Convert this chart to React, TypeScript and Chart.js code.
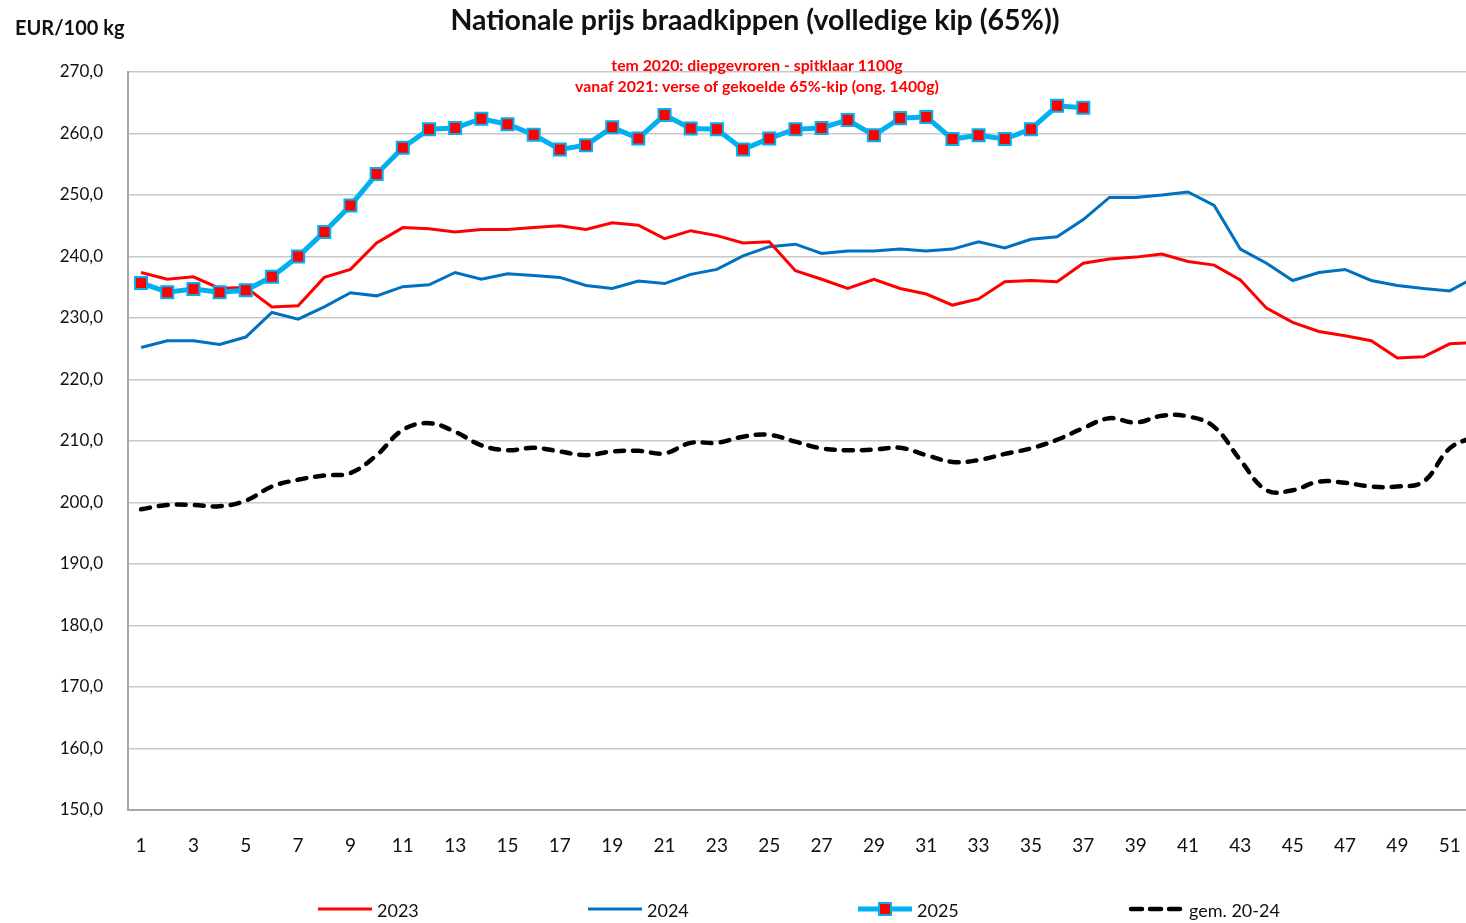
import React, { useEffect, useRef } from 'react';
import { Chart, registerables } from 'chart.js';
Chart.register(...registerables);

const weeks = ['1','2','3','4','5','6','7','8','9','10','11','12','13','14','15','16','17','18','19','20','21','22','23','24','25','26','27','28','29','30','31','32','33','34','35','36','37','38','39','40','41','42','43','44','45','46','47','48','49','50','51','52'];

const values2023 = [237.4, 236.3, 236.7, 234.8, 235.0, 231.8, 232.0, 236.6, 237.9, 242.2, 244.7, 244.5, 244.0, 244.4, 244.4, 244.7, 245.0, 244.4, 245.5, 245.1, 242.9, 244.2, 243.4, 242.2, 242.4, 237.7, 236.3, 234.8, 236.3, 234.8, 233.9, 232.1, 233.1, 235.9, 236.1, 235.9, 238.9, 239.6, 239.9, 240.4, 239.2, 238.6, 236.2, 231.6, 229.3, 227.8, 227.1, 226.3, 223.5, 223.7, 225.8, 226.0];

const values2024 = [225.2, 226.3, 226.3, 225.7, 226.9, 230.9, 229.8, 231.8, 234.1, 233.6, 235.1, 235.4, 237.4, 236.3, 237.2, 236.9, 236.6, 235.3, 234.8, 236.0, 235.6, 237.1, 237.9, 240.1, 241.6, 242.0, 240.5, 240.9, 240.9, 241.2, 240.9, 241.2, 242.4, 241.4, 242.8, 243.2, 246.0, 249.6, 249.6, 250.0, 250.5, 248.3, 241.2, 238.9, 236.1, 237.4, 237.9, 236.1, 235.3, 234.8, 234.4, 236.7];

const values2025 = [235.7, 234.2, 234.7, 234.2, 234.5, 236.7, 240.0, 244.0, 248.3, 253.4, 257.7, 260.7, 260.9, 262.4, 261.5, 259.8, 257.4, 258.1, 261.0, 259.2, 263.0, 260.8, 260.7, 257.4, 259.2, 260.7, 260.9, 262.2, 259.7, 262.5, 262.7, 259.1, 259.7, 259.1, 260.7, 264.5, 264.2];

const valuesAvg = [198.9, 199.6, 199.6, 199.4, 200.3, 202.6, 203.7, 204.4, 204.8, 207.7, 211.8, 212.9, 211.5, 209.3, 208.5, 208.9, 208.3, 207.7, 208.3, 208.4, 208.0, 209.7, 209.7, 210.7, 211.0, 209.9, 208.8, 208.5, 208.6, 208.9, 207.7, 206.6, 206.9, 207.9, 208.8, 210.2, 212.1, 213.7, 213.0, 214.1, 214.0, 212.3, 206.9, 202.0, 202.0, 203.4, 203.2, 202.6, 202.6, 203.4, 208.8, 210.8];

const seriesNames = ['2023', '2024', '2025', 'gem. 20-24'];
const titleText = 'Nationale prijs braadkippen (volledige kip (65%))';
const unitText = 'EUR/100 kg';
const noteLines = ['tem 2020: diepgevroren - spitklaar 1100g', 'vanaf 2021: verse of gekoelde 65%-kip (ong. 1400g)'];

const FONT = "Lato, 'Open Sans', 'DejaVu Sans', sans-serif";
const RED = '#ff0000';
const BLUE = '#0070c0';
const CYAN = '#00b0f0';

const textPlugin = {
  id: 'customText',
  afterDraw(chart: any) {
    const ctx = chart.ctx;
    ctx.save();
    // title
    ctx.fillStyle = '#111';
    ctx.textBaseline = 'middle';
    ctx.textAlign = 'center';
    ctx.font = `bold 28.5px ${FONT}`;
    ctx.fillText(titleText, 755, 21);
    // unit
    ctx.textAlign = 'left';
    ctx.font = `bold 20px ${FONT}`;
    ctx.fillText(unitText, 15, 29);
    // note
    ctx.fillStyle = RED;
    ctx.textAlign = 'center';
    ctx.font = `bold 15.8px ${FONT}`;
    ctx.fillText(noteLines[0], 757, 66);
    ctx.fillText(noteLines[1], 757, 87);

    // legend
    const ly = 909;
    const items = [
      { x: 318, color: RED, width: 3, dash: [] as number[], marker: false },
      { x: 588, color: BLUE, width: 3, dash: [] as number[], marker: false },
      { x: 858, color: CYAN, width: 5, dash: [] as number[], marker: true },
      { x: 1128, color: '#000', width: 4.5, dash: [11, 8], marker: false },
    ];
    items.forEach((it, i) => {
      ctx.beginPath();
      ctx.strokeStyle = it.color;
      ctx.lineWidth = it.width;
      ctx.setLineDash(it.dash);
      ctx.lineCap = it.dash.length ? 'round' : 'butt';
      ctx.moveTo(it.x + (it.dash.length ? 3 : 0), ly);
      ctx.lineTo(it.x + 54, ly);
      ctx.stroke();
      ctx.setLineDash([]);
      if (it.marker) {
        ctx.fillStyle = RED;
        ctx.strokeStyle = CYAN;
        ctx.lineWidth = 2;
        ctx.fillRect(it.x + 21, ly - 6, 12, 12);
        ctx.strokeRect(it.x + 21, ly - 6, 12, 12);
      }
      ctx.fillStyle = '#111';
      ctx.textAlign = 'left';
      ctx.textBaseline = 'middle';
      ctx.font = `18px ${FONT}`;
      ctx.fillText(seriesNames[i], it.x + 59 + (i === 3 ? 2 : 0), ly + 2);
    });
    ctx.restore();
  },
};

export default function App() {
  const ref = useRef<HTMLCanvasElement | null>(null);
  useEffect(() => {
    if (!ref.current) return;
    const chart = new Chart(ref.current, {
      type: 'line',
      data: {
        labels: weeks,
        datasets: [
          {
            label: seriesNames[0],
            data: values2023,
            borderColor: RED,
            backgroundColor: RED,
            borderWidth: 3,
            pointRadius: 0,
            tension: 0,
            order: 2,
          },
          {
            label: seriesNames[1],
            data: values2024,
            borderColor: BLUE,
            backgroundColor: BLUE,
            borderWidth: 3,
            pointRadius: 0,
            tension: 0,
            order: 3,
          },
          {
            label: seriesNames[2],
            data: values2025,
            borderColor: CYAN,
            backgroundColor: RED,
            borderWidth: 5,
            pointStyle: 'rect',
            pointRadius: 8.5,
            pointBorderColor: CYAN,
            pointBorderWidth: 2,
            pointBackgroundColor: RED,
            tension: 0,
            order: 0,
          },
          {
            label: seriesNames[3],
            data: valuesAvg,
            borderColor: '#000',
            backgroundColor: '#000',
            borderWidth: 4.5,
            borderDash: [9, 9],
            borderCapStyle: 'round',
            pointRadius: 0,
            tension: 0.4,
            order: 4,
          },
        ],
      },
      options: {
        responsive: false,
        animation: false,
        layout: { padding: { left: 0, top: 72, right: 11, bottom: 0 } },
        plugins: {
          legend: { display: false },
          title: { display: false },
          tooltip: { enabled: false },
        },
        scales: {
          x: {
            offset: true,
            grid: { display: false, drawTicks: false },
            border: { display: true, color: '#a6a6a6', width: 2 },
            ticks: {
              autoSkip: false,
              maxRotation: 0,
              padding: 24,
              color: '#111',
              font: { family: FONT, size: 19 },
              callback: (v: any, i: number) => (i % 2 === 0 ? weeks[i] : ''),
            },
            afterFit: (s: any) => { s.height = 113; },
          },
          y: {
            min: 150,
            max: 270,
            grid: { color: '#c8c8c8', lineWidth: 1.5, drawTicks: false },
            border: { display: true, color: '#a6a6a6', width: 2 },
            ticks: {
              stepSize: 10,
              padding: 25,
              color: '#111',
              font: { family: FONT, size: 17 },
              callback: (v: any) => Number(v).toFixed(1).replace('.', ','),
            },
            afterFit: (s: any) => { s.width = 128; },
          },
        },
      },
      plugins: [textPlugin],
    } as any);
    return () => chart.destroy();
  }, []);
  return (
    <div style={{ position: 'fixed', left: 0, top: 0, width: 1466, height: 923, overflow: 'hidden', background: '#fff' }}>
      <canvas ref={ref} width={1500} height={923} style={{ display: 'block', width: 1500, height: 923 }} />
    </div>
  );
}
